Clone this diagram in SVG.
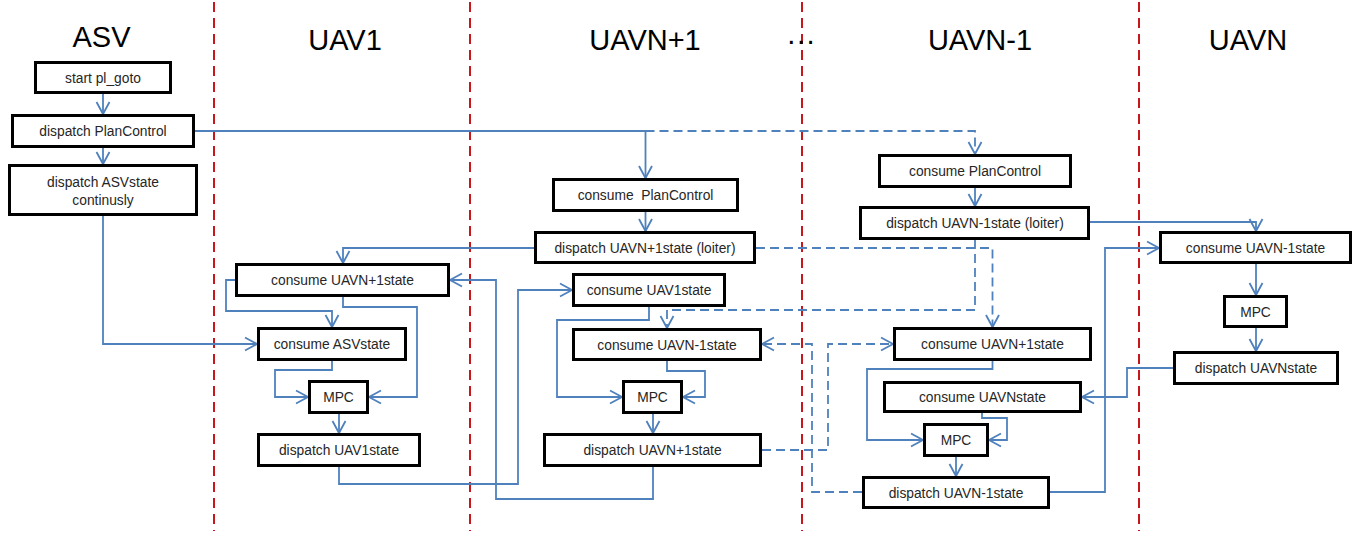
<svg xmlns="http://www.w3.org/2000/svg" width="1359" height="533" viewBox="0 0 1359 533">
<style>
.lane{stroke:#c8161d;stroke-width:2;stroke-dasharray:10,6;fill:none}
.title{font-family:"Liberation Sans",Arial,sans-serif;font-size:29px;fill:#000;text-anchor:middle}
.box{fill:#fff;stroke:#000;stroke-width:3}
.lbl{font-family:"Liberation Sans",Arial,sans-serif;font-size:13.8px;fill:#262626;text-anchor:middle}
.c{fill:none;stroke:#4f81bd;stroke-width:1.8;marker-end:url(#ah)}
.n{fill:none;stroke:#4f81bd;stroke-width:1.8}
.d{stroke-dasharray:9,5}
</style>
<defs>
<marker id="ah" markerWidth="16" markerHeight="16" refX="13" refY="8" orient="auto" markerUnits="userSpaceOnUse">
<path d="M1,1.5 L13,8 L1,14.5" fill="none" stroke="#4f81bd" stroke-width="1.8"/>
</marker>
</defs>
<rect width="1359" height="533" fill="#fff"/>
<g id="lanes">
<line class="lane" x1="214" y1="2" x2="214" y2="531"/>
<line class="lane" x1="470" y1="2" x2="470" y2="531"/>
<line class="lane" x1="802" y1="2" x2="802" y2="531"/>
<line class="lane" x1="1139" y1="2" x2="1139" y2="531"/>
</g>
<g id="titles">
<text class="title" x="101.5" y="47">ASV</text>
<text class="title" x="345" y="50">UAV1</text>
<text class="title" x="645" y="50">UAVN+1</text>
<text class="title" x="801" y="50">···</text>
<text class="title" x="980" y="50">UAVN-1</text>
<text class="title" x="1248" y="50">UAVN</text>
</g>
<g id="connectors">
<path class="c" d="M103,94 V114"/>
<path class="c" d="M103,148 V164"/>
<path class="c" d="M195,131 H645.5 V178"/>
<path class="c d" d="M645.5,131 H975 V154"/>
<path class="c" d="M645.5,212 V231"/>
<path class="c" d="M534,248 H343 V263"/>
<path class="c d" d="M756,248 H992.5 V327"/>
<path class="c" d="M975,188 V206"/>
<path class="c" d="M1090,222 H1256 V231"/>
<path class="c d" d="M975,240 V310 H667 V328"/>
<path class="c d" d="M862,492 H812 V344 H762"/>
<path class="c d" d="M762,450 H828 V344 H893"/>
<path class="c" d="M235,280 H226 V311 H332 V327"/>
<path class="c" d="M343,297 V307 H417 V397 H369"/>
<path class="c" d="M103,216 V344 H257"/>
<path class="c" d="M332,361 V370 H275 V397 H308"/>
<path class="c" d="M339,414 V433"/>
<path class="c" d="M339,467 V484 H518 V290 H572"/>
<path class="c" d="M653,467 V499 H496 V280 H450"/>
<path class="c" d="M649,307 V320 H557 V397 H622"/>
<path class="c" d="M667,361 V371 H705 V397 H683"/>
<path class="c" d="M653,414 V433"/>
<path class="c" d="M992.5,361 V369 H867 V440 H923"/>
<path class="c" d="M982,413 V418 H1007 V440 H989"/>
<path class="c" d="M956,457 V476"/>
<path class="c" d="M1050,492 H1105 V248 H1159"/>
<path class="c" d="M1256,264 V295"/>
<path class="c" d="M1256,328 V351"/>
<path class="c" d="M1173,368 H1127 V397 H1082"/>
</g>
<g id="asv-start"><rect class="box" x="35.5" y="62.5" width="135" height="30"/><text class="lbl" x="103" y="83">start pl_goto</text></g>
<g id="asv-dispatch-plancontrol"><rect class="box" x="12.5" y="115.5" width="181" height="31"/><text class="lbl" x="103" y="136">dispatch PlanControl</text></g>
<g id="asv-dispatch-asvstate"><rect class="box" x="9.5" y="165.5" width="187" height="49"/><text class="lbl" x="103" y="187">dispatch ASVstate</text><text class="lbl" x="103" y="205">continusly</text></g>

<g id="uav1-consume-uavn1"><rect class="box" x="236.5" y="264.5" width="212" height="31"/><text class="lbl" x="342.5" y="285">consume UAVN+1state</text></g>
<g id="uav1-consume-asv"><rect class="box" x="258.5" y="328.5" width="147" height="31"/><text class="lbl" x="332" y="349">consume ASVstate</text></g>
<g id="uav1-mpc"><rect class="box" x="309.5" y="381.5" width="58" height="31"/><text class="lbl" x="338.5" y="402">MPC</text></g>
<g id="uav1-dispatch"><rect class="box" x="258.5" y="434.5" width="161" height="31"/><text class="lbl" x="339" y="455">dispatch UAV1state</text></g>

<g id="uavn1-consume-plan"><rect class="box" x="553.5" y="179.5" width="184" height="31"/><text class="lbl" x="645.5" y="200" xml:space="preserve">consume  PlanControl</text></g>
<g id="uavn1-dispatch-loiter"><rect class="box" x="535.5" y="232.5" width="219" height="30"/><text class="lbl" x="645" y="253">dispatch UAVN+1state (loiter)</text></g>
<g id="uavn1-consume-uav1"><rect class="box" x="573.5" y="274.5" width="151" height="31"/><text class="lbl" x="649" y="295">consume UAV1state</text></g>
<g id="uavn1-consume-uavnm1"><rect class="box" x="573.5" y="329.5" width="187" height="30"/><text class="lbl" x="667" y="350">consume UAVN-1state</text></g>
<g id="uavn1-mpc"><rect class="box" x="623.5" y="381.5" width="58" height="31"/><text class="lbl" x="652.5" y="402">MPC</text></g>
<g id="uavn1-dispatch"><rect class="box" x="544.5" y="434.5" width="216" height="31"/><text class="lbl" x="652.5" y="455">dispatch UAVN+1state</text></g>

<g id="uavnm1-consume-plan"><rect class="box" x="879.5" y="155.5" width="191" height="31"/><text class="lbl" x="975" y="176">consume PlanControl</text></g>
<g id="uavnm1-dispatch-loiter"><rect class="box" x="860.5" y="207.5" width="228" height="31"/><text class="lbl" x="975" y="228">dispatch UAVN-1state (loiter)</text></g>
<g id="uavnm1-consume-uavn1"><rect class="box" x="894.5" y="328.5" width="196" height="31"/><text class="lbl" x="992.5" y="349">consume UAVN+1state</text></g>
<g id="uavnm1-consume-uavn"><rect class="box" x="884.5" y="382.5" width="196" height="29"/><text class="lbl" x="982.5" y="402">consume UAVNstate</text></g>
<g id="uavnm1-mpc"><rect class="box" x="924.5" y="424.5" width="63" height="31"/><text class="lbl" x="956" y="445">MPC</text></g>
<g id="uavnm1-dispatch"><rect class="box" x="863.5" y="477.5" width="185" height="30"/><text class="lbl" x="956" y="498">dispatch UAVN-1state</text></g>

<g id="uavn-consume"><rect class="box" x="1160.5" y="232.5" width="190" height="30"/><text class="lbl" x="1255.5" y="253">consume UAVN-1state</text></g>
<g id="uavn-mpc"><rect class="box" x="1224.5" y="296.5" width="62" height="30"/><text class="lbl" x="1255.5" y="317">MPC</text></g>
<g id="uavn-dispatch"><rect class="box" x="1174.5" y="352.5" width="163" height="31"/><text class="lbl" x="1256" y="373">dispatch UAVNstate</text></g>
</svg>
